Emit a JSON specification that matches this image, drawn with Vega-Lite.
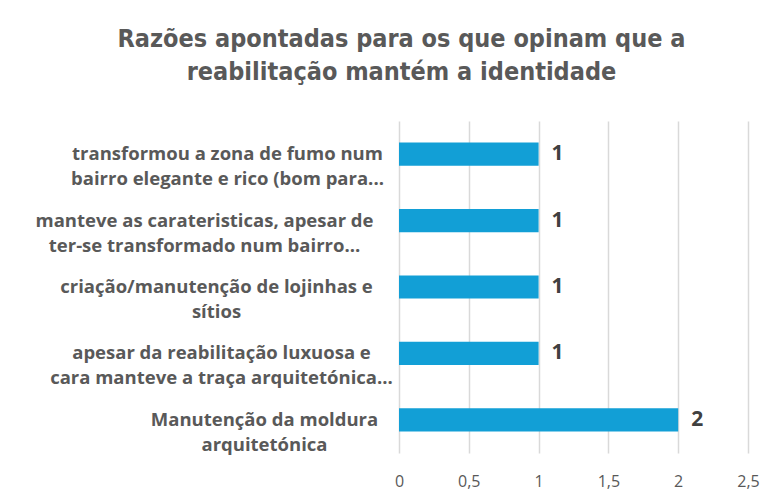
{
  "$schema": "https://vega.github.io/schema/vega-lite/v6.json",
  "autosize": "none",
  "width": 349,
  "height": 332,
  "padding": {"left": 399, "top": 121, "right": 29, "bottom": 51},
  "background": "white",
  "title": {
    "text": ["Razões apontadas para os que opinam que a", "reabilitação mantém a identidade"],
    "anchor": "middle",
    "frame": "group",
    "dx": -172,
    "offset": 36,
    "lineHeight": 33,
    "font": "DejaVu Sans Condensed, Roboto",
    "fontSize": 25,
    "fontWeight": "bold",
    "color": "#595959"
  },
  "data": {
    "values": [
      {"razao": "transformou a zona de fumo num|bairro elegante e rico (bom para...", "n": 1},
      {"razao": "manteve as carateristicas, apesar de|ter-se transformado num bairro...", "n": 1},
      {"razao": "criação/manutenção de lojinhas e|sítios", "n": 1},
      {"razao": "apesar da reabilitação luxuosa e|cara manteve a traça arquitetónica...", "n": 1},
      {"razao": "Manutenção da moldura|arquitetónica", "n": 2}
    ]
  },
  "encoding": {
    "y": {
      "field": "razao",
      "type": "nominal",
      "sort": null,
      "scale": {"paddingInner": 0.65, "paddingOuter": 0.325},
      "axis": {
        "title": null,
        "domain": false,
        "ticks": false,
        "grid": false,
        "labelExpr": "split(datum.label, '|')",
        "labelAlign": "center",
        "labelBaseline": "middle",
        "labelLineHeight": 25,
        "labelLimit": 0,
        "labelFont": "Open Sans",
        "labelFontSize": 18.5,
        "labelFontWeight": "bold",
        "labelColor": "#595959",
        "labelPadding": {
          "condition": [
            {"test": "indexof(datum.value, 'transformou') == 0", "value": 172},
            {"test": "indexof(datum.value, 'manteve') == 0", "value": 195},
            {"test": "indexof(datum.value, 'criação') == 0", "value": 183},
            {"test": "indexof(datum.value, 'apesar') == 0", "value": 178}
          ],
          "value": 135
        }
      }
    },
    "x": {
      "field": "n",
      "type": "quantitative",
      "scale": {"domain": [0, 2.5], "nice": false},
      "axis": {
        "title": null,
        "values": [0, 0.5, 1, 1.5, 2, 2.5],
        "labelExpr": "replace(format(datum.value, '~g'), '.', ',')",
        "labelFlush": false,
        "domain": false,
        "ticks": false,
        "grid": true,
        "gridColor": "#D9D9D9",
        "gridWidth": 1.5,
        "labelPadding": 20,
        "labelFont": "Open Sans",
        "labelFontSize": 16,
        "labelColor": "#595959"
      }
    }
  },
  "layer": [
    {"mark": {"type": "bar", "color": "#129FD6"}},
    {
      "mark": {"type": "text", "align": "left", "baseline": "middle", "dx": 13, "font": "Open Sans", "fontSize": 21, "fontWeight": "bold", "color": "#404040"},
      "encoding": {"text": {"field": "n", "type": "quantitative"}}
    }
  ],
  "config": {"view": {"stroke": null}}
}
